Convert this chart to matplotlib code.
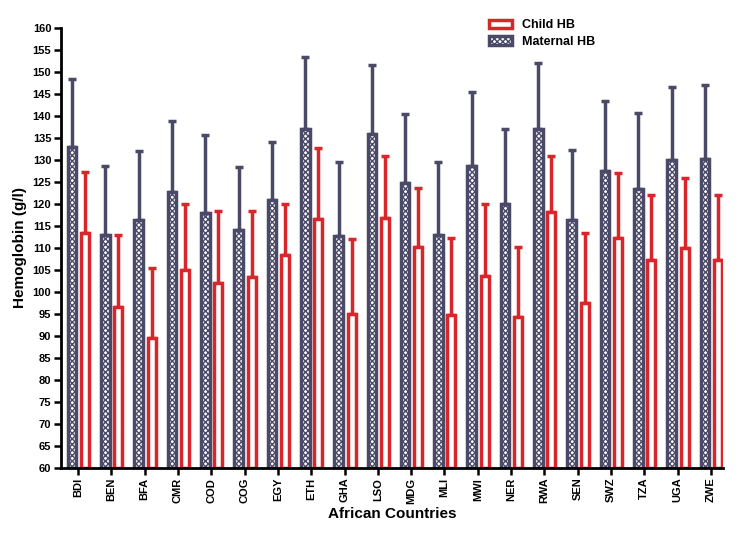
import matplotlib
matplotlib.use("Agg")
import matplotlib.pyplot as plt
import numpy as np

plt.rcParams['font.family'] = ['Liberation Sans', 'DejaVu Sans']
plt.rcParams['hatch.linewidth'] = 1.0

countries = ["BDI", "BEN", "BFA", "CMR", "COD", "COG", "EGY", "ETH", "GHA", "LSO",
             "MDG", "MLI", "MWI", "NER", "RWA", "SEN", "SWZ", "TZA", "UGA", "ZWE"]
maternal = [133, 113, 116.3, 122.7, 118, 114, 121, 137, 112.7, 135.8,
            124.8, 113, 128.7, 120, 137, 116.3, 127.5, 123.5, 130, 130.3]
maternal_top = [148.5, 128.7, 132, 138.8, 135.7, 128.5, 134, 153.3, 129.5, 151.5,
                140.5, 129.5, 145.5, 137, 152, 132.3, 143.3, 140.7, 146.5, 147]
child = [113.5, 96.5, 89.5, 105, 102, 103.5, 108.5, 116.5, 95, 116.8,
         110.3, 94.8, 103.7, 94.3, 118.2, 97.5, 112.2, 107.3, 110, 107.3]
child_top = [127.3, 113, 105.5, 120, 118.5, 118.5, 120, 132.8, 112, 131,
             123.7, 112.3, 120, 110.3, 131, 113.3, 127, 122, 126, 122]
yticks = list(range(60, 161, 5))

mat_col = "#4a4a68"
child_col = "#d8262a"

fig = plt.figure(figsize=(7.39, 5.36), dpi=100)
ax = fig.add_axes([61/739, 68/536, (723-61)/739, (468-28)/536])

x = np.arange(len(countries))
base = 60
m_err = np.array(maternal_top) - np.array(maternal)
c_err = np.array(child_top) - np.array(child)

ax.bar(x - 0.18, np.array(maternal) - base, bottom=base, width=0.26,
       facecolor="white", edgecolor=mat_col, linewidth=2.5, hatch="xxxxxx", zorder=2)
ax.errorbar(x - 0.18, maternal, yerr=[np.zeros_like(m_err), m_err], fmt="none",
            ecolor=mat_col, elinewidth=2.5, capsize=3, capthick=2.5, zorder=1)
ax.bar(x + 0.21, np.array(child) - base, bottom=base, width=0.24,
       facecolor="white", edgecolor=child_col, linewidth=2.5, zorder=2)
ax.errorbar(x + 0.21, child, yerr=[np.zeros_like(c_err), c_err], fmt="none",
            ecolor=child_col, elinewidth=2.5, capsize=3, capthick=2.5, zorder=1)

ax.set_xlim(-0.51, 19.36)
ax.set_ylim(60, 160)
ax.set_yticks(yticks)
ax.set_xticks(x)
ax.set_xticklabels(countries, rotation=90, fontsize=8, fontweight="bold")
for lbl in ax.get_yticklabels():
    lbl.set_fontsize(8)
    lbl.set_fontweight("bold")
ax.spines["top"].set_visible(False)
ax.spines["right"].set_visible(False)
ax.spines["left"].set_linewidth(2)
ax.spines["bottom"].set_linewidth(2)
ax.tick_params(axis="both", direction="out", length=5, width=1.8, pad=2)

ax.set_ylabel("Hemoglobin (g/l)", fontsize=11, fontweight="bold", labelpad=4)
ax.set_xlabel("African Countries", fontsize=11, fontweight="bold", labelpad=2)

from matplotlib.patches import Patch
handles = [Patch(facecolor="white", edgecolor=child_col, linewidth=2.5),
           Patch(facecolor="white", edgecolor=mat_col, linewidth=2.5, hatch="xxxxxx")]
leg = ax.legend(handles, ["Child HB", "Maternal HB"], loc="upper left",
                bbox_to_anchor=(0.63, 1.045), frameon=False,
                prop={"weight": "bold", "size": 9}, handlelength=1.8,
                handleheight=0.7, labelspacing=0.35)

fig.savefig("out.png", dpi=100)
